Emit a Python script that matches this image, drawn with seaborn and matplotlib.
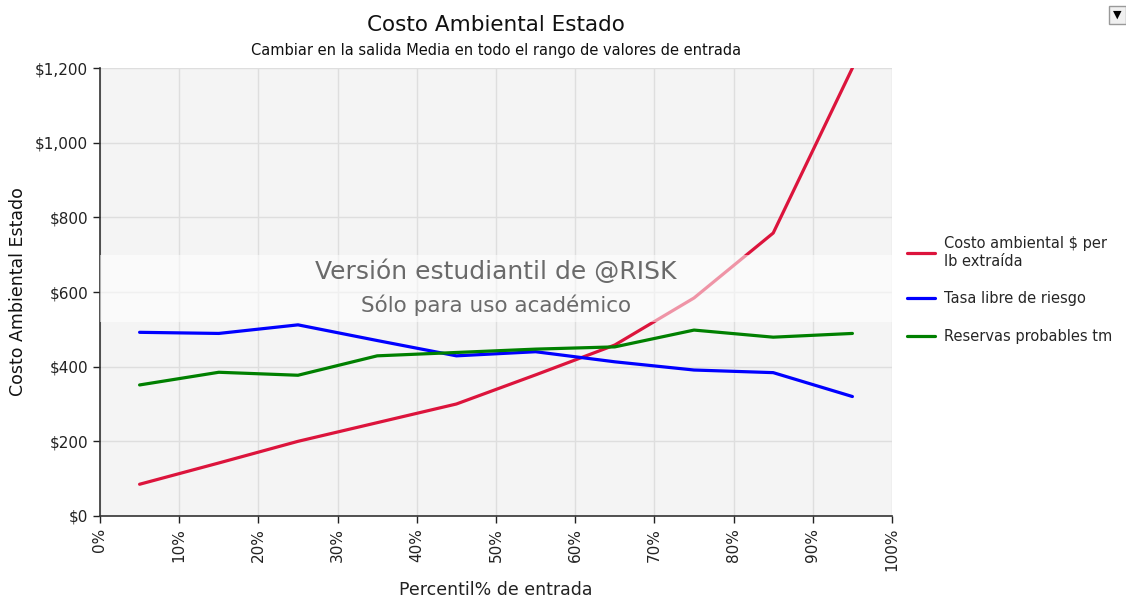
import numpy as np
import pandas as pd
import matplotlib
matplotlib.use("Agg")
import matplotlib.pyplot as plt
from matplotlib.ticker import FuncFormatter, MultipleLocator
import seaborn as sns

# values
percentiles = [5, 15, 25, 35, 45, 55, 65, 75, 85, 95]
costo_ambiental = [85, 142, 200, 250, 300, 378, 458, 584, 758, 1200]
tasa_libre = [492, 489, 512, 470, 429, 440, 413, 391, 384, 320]
reservas = [351, 385, 377, 429, 438, 447, 453, 498, 479, 489]

series_names = [
    "Costo ambiental $ per\nlb extraída",
    "Tasa libre de riesgo",
    "Reservas probables tm",
]
series_colors = ["#dc143c", "#0000ff", "#008000"]

title = "Costo Ambiental Estado"
subtitle = "Cambiar en la salida Media en todo el rango de valores de entrada"
x_label = "Percentil% de entrada"
y_label = "Costo Ambiental Estado"
watermark_lines = ["Versión estudiantil de @RISK", "Sólo para uso académico"]


def build_frame():
    frames = []
    for name, vals in zip(series_names, [costo_ambiental, tasa_libre, reservas]):
        frames.append(pd.DataFrame({"pct": percentiles, "value": vals, "serie": name}))
    return pd.concat(frames, ignore_index=True)


sns.set_style("white")
plt.rcParams["font.family"] = ["DejaVu Sans"]

data = build_frame()

fig = plt.figure(figsize=(11.26, 6.03), dpi=100)
ax = fig.add_axes([0.0888, 0.1443, 0.7034, 0.7429])
ax.set_facecolor("#f4f4f4")

sns.lineplot(
    data=data, x="pct", y="value", hue="serie",
    palette=dict(zip(series_names, series_colors)),
    linewidth=2.3, ax=ax, zorder=3,
)

ax.set_xlim(0, 100)
ax.set_ylim(0, 1200)
ax.xaxis.set_major_locator(MultipleLocator(10))
ax.yaxis.set_major_locator(MultipleLocator(200))
ax.xaxis.set_major_formatter(FuncFormatter(lambda v, p: f"{int(v)}%"))
ax.yaxis.set_major_formatter(FuncFormatter(lambda v, p: f"${int(v):,}"))
ax.tick_params(axis="x", rotation=90, labelsize=11, colors="#222222",
               direction="out", length=5, width=1, bottom=True)
ax.tick_params(axis="y", labelsize=11, colors="#222222",
               direction="out", length=5, width=1, left=True)
ax.grid(True, color="#dedede", linewidth=1)
ax.set_axisbelow(True)
for side in ["top", "right"]:
    ax.spines[side].set_visible(False)
for side in ["left", "bottom"]:
    ax.spines[side].set_color("#333333")
    ax.spines[side].set_linewidth(1.2)

ax.set_xlabel(x_label, fontsize=12.5, color="#222222", labelpad=7)
ax.set_ylabel(y_label, fontsize=12.5, color="#111111", labelpad=6)

# watermark band
ax.axhspan(520, 699, color="white", alpha=0.55, zorder=4, linewidth=0)
ax.text(50, 653, watermark_lines[0], ha="center", va="center",
        fontsize=18, color="#6a6a6a", zorder=5)
ax.text(50, 564, watermark_lines[1], ha="center", va="center",
        fontsize=15.5, color="#6a6a6a", zorder=5)

fig.text(0.4405, 0.958, title, ha="center", va="center", fontsize=15.5, color="#111111")
fig.text(0.4405, 0.916, subtitle, ha="center", va="center", fontsize=10.5, color="#111111")

handles, labels = ax.get_legend_handles_labels()
ax.legend(handles, labels, loc="upper left", bbox_to_anchor=(0.794, 0.63),
          bbox_transform=fig.transFigure, frameon=False, fontsize=10.5,
          handlelength=1.9, handletextpad=0.6, labelspacing=1.55)

# dropdown arrow in the top right corner
fig.text(0.9925, 0.975, "▼", ha="center", va="center", fontsize=8, color="black",
         bbox=dict(boxstyle="square,pad=0.35", facecolor="#f0f0f0", edgecolor="#999999"))

fig.savefig("out.png", dpi=100)
plt.close(fig)
